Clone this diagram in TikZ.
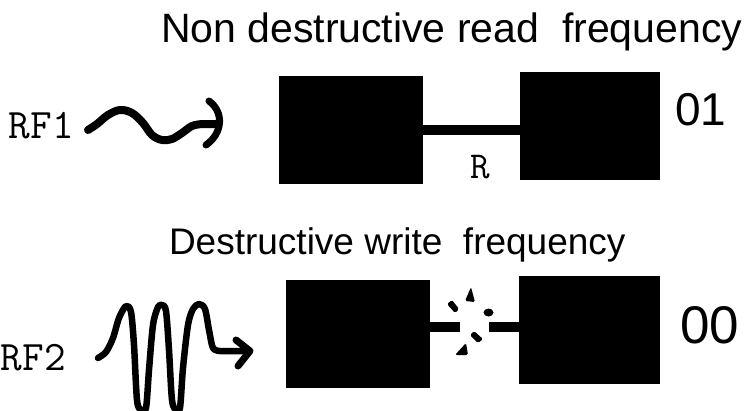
\documentclass[tikz,border=0pt]{standalone}
\usepackage{fontspec}
\setmainfont{Liberation Sans}
\begin{document}
\begin{tikzpicture}[x=1pt,y=-1pt,
  cell/.style={fill=black,draw=none,inner sep=0pt,minimum width=#1},
  txt/.style={anchor=base west,inner sep=0pt,outer sep=0pt},
  wire/.style={line width=10pt},
  wave/.style={line width=#1,line cap=round,line join=round},
  frag/.style={fill=black,rounded corners=1.5pt}]
\useasboundingbox (0,0) rectangle (753,410);
% titles
\node[txt,font=\fontsize{41}{41}\selectfont] (t1) at (161,42) {Non destructive read\ \ frequency};
\node[txt,font=\fontsize{37}{37}\selectfont] (t2) at (169,254) {Destructive write\ \ frequency};
% cells
\node[cell=144pt,minimum height=108pt] (tl) at (351,130) {};
\node[cell=140pt,minimum height=108pt] (tr) at (590,126) {};
\node[cell=144pt,minimum height=108pt] (bl) at (358,334) {};
\node[cell=141pt,minimum height=108pt] (br) at (589.5,330) {};
% labels
\node[txt,font=\fontsize{46}{46}\selectfont] (v1) at (675,125) {01};
\node[txt,font=\fontsize{53}{53}\selectfont] (v2) at (680,343) {00};
\node[txt,font=\ttfamily\fontsize{38}{38}\selectfont] (rl) at (470,178) {R};
\node[txt,font=\ttfamily\fontsize{42}{42}\selectfont] (rf1) at (9,138) {RF1};
\node[txt,font=\ttfamily\fontsize{42}{42}\selectfont] (rf2) at (1,370) {RF2};
% read connector
\draw[wire] (tl.east) -- (tl.east -| tr.west);
% broken write connector
\coordinate (brkL) at (460,327);
\coordinate (brkR) at (489,327);
\draw[wire] (bl.east |- brkL) -- (brkL);
\draw[wire] (brkR) -- (br.west |- brkR);
% fragments
\fill[frag] (471,287) -- (475,302) -- (465,301) -- cycle;
\fill[frag] (447,304) -- (452,300) -- (459,309) -- (455,313) -- cycle;
\fill[black] (488.5,312.5) ellipse [x radius=5pt,y radius=4pt];
\fill[frag] (470,335) -- (474,331) -- (483,339) -- (478,343) -- cycle;
\fill[frag] (466,343) -- (468,355) -- (455,355) -- cycle;
% RF1 wave
\draw[wave=8pt] plot[smooth,tension=0.6] coordinates {(88,130) (97,124) (108,115) (120,110) (132,113) (143,123) (152,135) (162,140) (172,139) (182,133) (192,126) (202,124)} -- (218,124);
\draw[wave=7pt] (209,101) .. controls (224,112) and (223,133) .. (206,145);
% RF2 wave
\draw[wave=6.5pt] plot[smooth,tension=0.5] coordinates {(98,358) (106,352) (113,338) (119,318) (126,306) (131,312) (134,345) (137,400) (141,410) (146,408) (149,370) (153,325) (158,307) (162,305) (166,311) (169,350) (172,400) (176,410) (180,408) (183,368) (188,325) (193,309) (199,304) (205,309) (209,330) (213,348) (220,351)} -- (246,351);
\draw[wave=7pt] (236,340) -- (250,351) -- (238,366);
\end{tikzpicture}
\end{document}
